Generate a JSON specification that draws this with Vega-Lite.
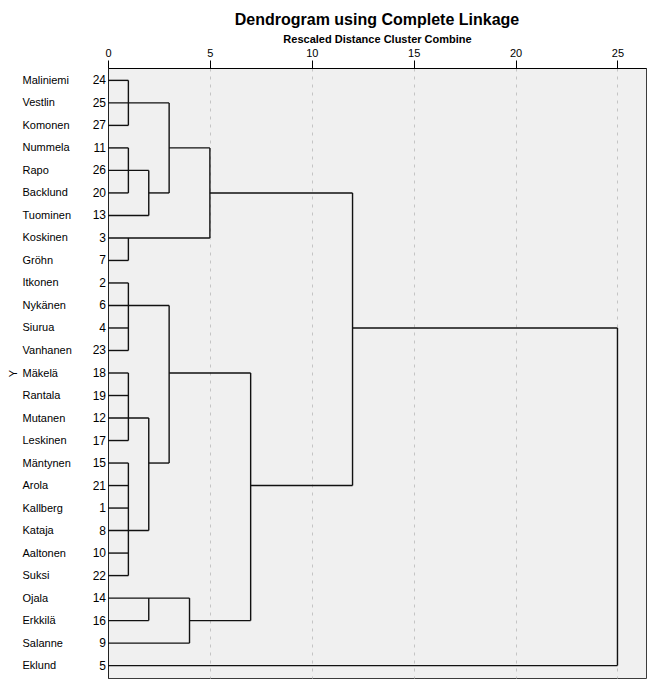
{
  "$schema": "https://vega.github.io/schema/vega-lite/v6.json",
  "width": 538,
  "height": 610,
  "autosize": {"type": "none"},
  "padding": {"left": 108, "top": 68, "right": 8, "bottom": 9},
  "background": "white",
  "title": {"text": "Dendrogram using Complete Linkage", "fontSize": 16, "font": "Liberation Sans", "fontWeight": "bold", "anchor": "middle", "offset": 5, "color": "#000"},
  "config": {"view": {"fill": "#F0F0F0", "stroke": "#3c3c3c", "strokeWidth": 1}, "font": "Liberation Sans"},
  "datasets": {
    "leaves": [
      {"name": "Maliniemi", "num": 24},
      {"name": "Vestlin", "num": 25},
      {"name": "Komonen", "num": 27},
      {"name": "Nummela", "num": 11},
      {"name": "Rapo", "num": 26},
      {"name": "Backlund", "num": 20},
      {"name": "Tuominen", "num": 13},
      {"name": "Koskinen", "num": 3},
      {"name": "Gröhn", "num": 7},
      {"name": "Itkonen", "num": 2},
      {"name": "Nykänen", "num": 6},
      {"name": "Siurua", "num": 4},
      {"name": "Vanhanen", "num": 23},
      {"name": "Mäkelä", "num": 18},
      {"name": "Rantala", "num": 19},
      {"name": "Mutanen", "num": 12},
      {"name": "Leskinen", "num": 17},
      {"name": "Mäntynen", "num": 15},
      {"name": "Arola", "num": 21},
      {"name": "Kallberg", "num": 1},
      {"name": "Kataja", "num": 8},
      {"name": "Aaltonen", "num": 10},
      {"name": "Suksi", "num": 22},
      {"name": "Ojala", "num": 14},
      {"name": "Erkkilä", "num": 16},
      {"name": "Salanne", "num": 9},
      {"name": "Eklund", "num": 5}
    ],
    "links": [
      {"a": 0, "b": 1, "r1": "Maliniemi", "r2": "Maliniemi"},
      {"a": 0, "b": 3, "r1": "Vestlin", "r2": "Vestlin"},
      {"a": 0, "b": 1, "r1": "Komonen", "r2": "Komonen"},
      {"a": 0, "b": 1, "r1": "Nummela", "r2": "Nummela"},
      {"a": 0, "b": 2, "r1": "Rapo", "r2": "Rapo"},
      {"a": 0, "b": 1, "r1": "Backlund", "r2": "Backlund"},
      {"a": 2, "b": 3, "r1": "Backlund", "r2": "Backlund"},
      {"a": 0, "b": 2, "r1": "Tuominen", "r2": "Tuominen"},
      {"a": 0, "b": 5, "r1": "Koskinen", "r2": "Koskinen"},
      {"a": 0, "b": 1, "r1": "Gröhn", "r2": "Gröhn"},
      {"a": 0, "b": 1, "r1": "Itkonen", "r2": "Itkonen"},
      {"a": 0, "b": 3, "r1": "Nykänen", "r2": "Nykänen"},
      {"a": 0, "b": 1, "r1": "Siurua", "r2": "Siurua"},
      {"a": 0, "b": 1, "r1": "Vanhanen", "r2": "Vanhanen"},
      {"a": 0, "b": 1, "r1": "Mäkelä", "r2": "Mäkelä"},
      {"a": 0, "b": 1, "r1": "Rantala", "r2": "Rantala"},
      {"a": 0, "b": 2, "r1": "Mutanen", "r2": "Mutanen"},
      {"a": 0, "b": 1, "r1": "Leskinen", "r2": "Leskinen"},
      {"a": 0, "b": 1, "r1": "Mäntynen", "r2": "Mäntynen"},
      {"a": 0, "b": 1, "r1": "Arola", "r2": "Arola"},
      {"a": 0, "b": 1, "r1": "Kallberg", "r2": "Kallberg"},
      {"a": 0, "b": 2, "r1": "Kataja", "r2": "Kataja"},
      {"a": 0, "b": 1, "r1": "Aaltonen", "r2": "Aaltonen"},
      {"a": 0, "b": 1, "r1": "Suksi", "r2": "Suksi"},
      {"a": 0, "b": 4, "r1": "Ojala", "r2": "Ojala"},
      {"a": 0, "b": 2, "r1": "Erkkilä", "r2": "Erkkilä"},
      {"a": 0, "b": 4, "r1": "Salanne", "r2": "Salanne"},
      {"a": 0, "b": 25, "r1": "Eklund", "r2": "Eklund"},
      {"a": 3, "b": 5, "r1": "Nummela", "r2": "Nummela"},
      {"a": 5, "b": 12, "r1": "Backlund", "r2": "Backlund"},
      {"a": 12, "b": 25, "r1": "Siurua", "r2": "Siurua"},
      {"a": 3, "b": 7, "r1": "Mäkelä", "r2": "Mäkelä"},
      {"a": 2, "b": 3, "r1": "Mäntynen", "r2": "Mäntynen"},
      {"a": 7, "b": 12, "r1": "Arola", "r2": "Arola"},
      {"a": 4, "b": 7, "r1": "Erkkilä", "r2": "Erkkilä"},
      {"a": 1, "b": 1, "r1": "Maliniemi", "r2": "Komonen"},
      {"a": 1, "b": 1, "r1": "Nummela", "r2": "Backlund"},
      {"a": 2, "b": 2, "r1": "Rapo", "r2": "Tuominen"},
      {"a": 3, "b": 3, "r1": "Vestlin", "r2": "Backlund"},
      {"a": 1, "b": 1, "r1": "Koskinen", "r2": "Gröhn"},
      {"a": 5, "b": 5, "r1": "Nummela", "r2": "Koskinen"},
      {"a": 1, "b": 1, "r1": "Itkonen", "r2": "Vanhanen"},
      {"a": 1, "b": 1, "r1": "Mäkelä", "r2": "Leskinen"},
      {"a": 1, "b": 1, "r1": "Mäntynen", "r2": "Suksi"},
      {"a": 2, "b": 2, "r1": "Mutanen", "r2": "Kataja"},
      {"a": 3, "b": 3, "r1": "Nykänen", "r2": "Mäntynen"},
      {"a": 2, "b": 2, "r1": "Ojala", "r2": "Erkkilä"},
      {"a": 4, "b": 4, "r1": "Ojala", "r2": "Salanne"},
      {"a": 7, "b": 7, "r1": "Mäkelä", "r2": "Erkkilä"},
      {"a": 12, "b": 12, "r1": "Backlund", "r2": "Arola"},
      {"a": 25, "b": 25, "r1": "Siurua", "r2": "Eklund"}
    ]
  },
  "layer": [
    {
      "data": {"name": "links"},
      "mark": {"type": "rule", "color": "#111111", "strokeWidth": 1.4},
      "encoding": {
        "x": {
          "field": "a", "type": "quantitative",
          "scale": {"domain": [0, 26.4], "nice": false, "zero": false},
          "axis": {
            "orient": "top", "values": [0, 5, 10, 15, 20, 25], "tickSize": 8, "tickColor": "#000",
            "labelFontSize": 11, "labelPadding": 2, "labelColor": "#000", "labelFlush": false,
            "domain": true, "domainColor": "#000",
            "grid": true, "gridDash": [3, 5], "gridColor": "#c4c4c4",
            "gridOpacity": {"condition": {"test": "datum.value === 0", "value": 0}, "value": 1},
            "title": "Rescaled Distance Cluster Combine", "titleFontSize": 11, "titleFontWeight": "bold",
            "titleColor": "#000", "titlePadding": 3
          }
        },
        "x2": {"field": "b"},
        "y": {
          "field": "r1", "type": "nominal",
          "scale": {"type": "point", "padding": 0.55, "domain": ["Maliniemi", "Vestlin", "Komonen", "Nummela", "Rapo", "Backlund", "Tuominen", "Koskinen", "Gröhn", "Itkonen", "Nykänen", "Siurua", "Vanhanen", "Mäkelä", "Rantala", "Mutanen", "Leskinen", "Mäntynen", "Arola", "Kallberg", "Kataja", "Aaltonen", "Suksi", "Ojala", "Erkkilä", "Salanne", "Eklund"]},
          "axis": {
            "orient": "left", "ticks": false, "tickSize": 0, "domain": true, "domainColor": "#222", "grid": false,
            "labelAlign": "left", "labelPadding": 86, "labelFontSize": 11, "labelColor": "#000",
            "title": "Y", "titleFontSize": 11, "titleFontWeight": "normal", "titleColor": "#000", "titlePadding": 4
          }
        },
        "y2": {"field": "r2"}
      }
    },
    {
      "data": {"name": "leaves"},
      "mark": {"type": "text", "align": "right", "baseline": "middle", "dx": -2, "fontSize": 12, "color": "#000"},
      "encoding": {
        "x": {"datum": 0, "type": "quantitative"},
        "y": {"field": "name", "type": "nominal"},
        "text": {"field": "num", "type": "nominal"}
      }
    }
  ]
}
